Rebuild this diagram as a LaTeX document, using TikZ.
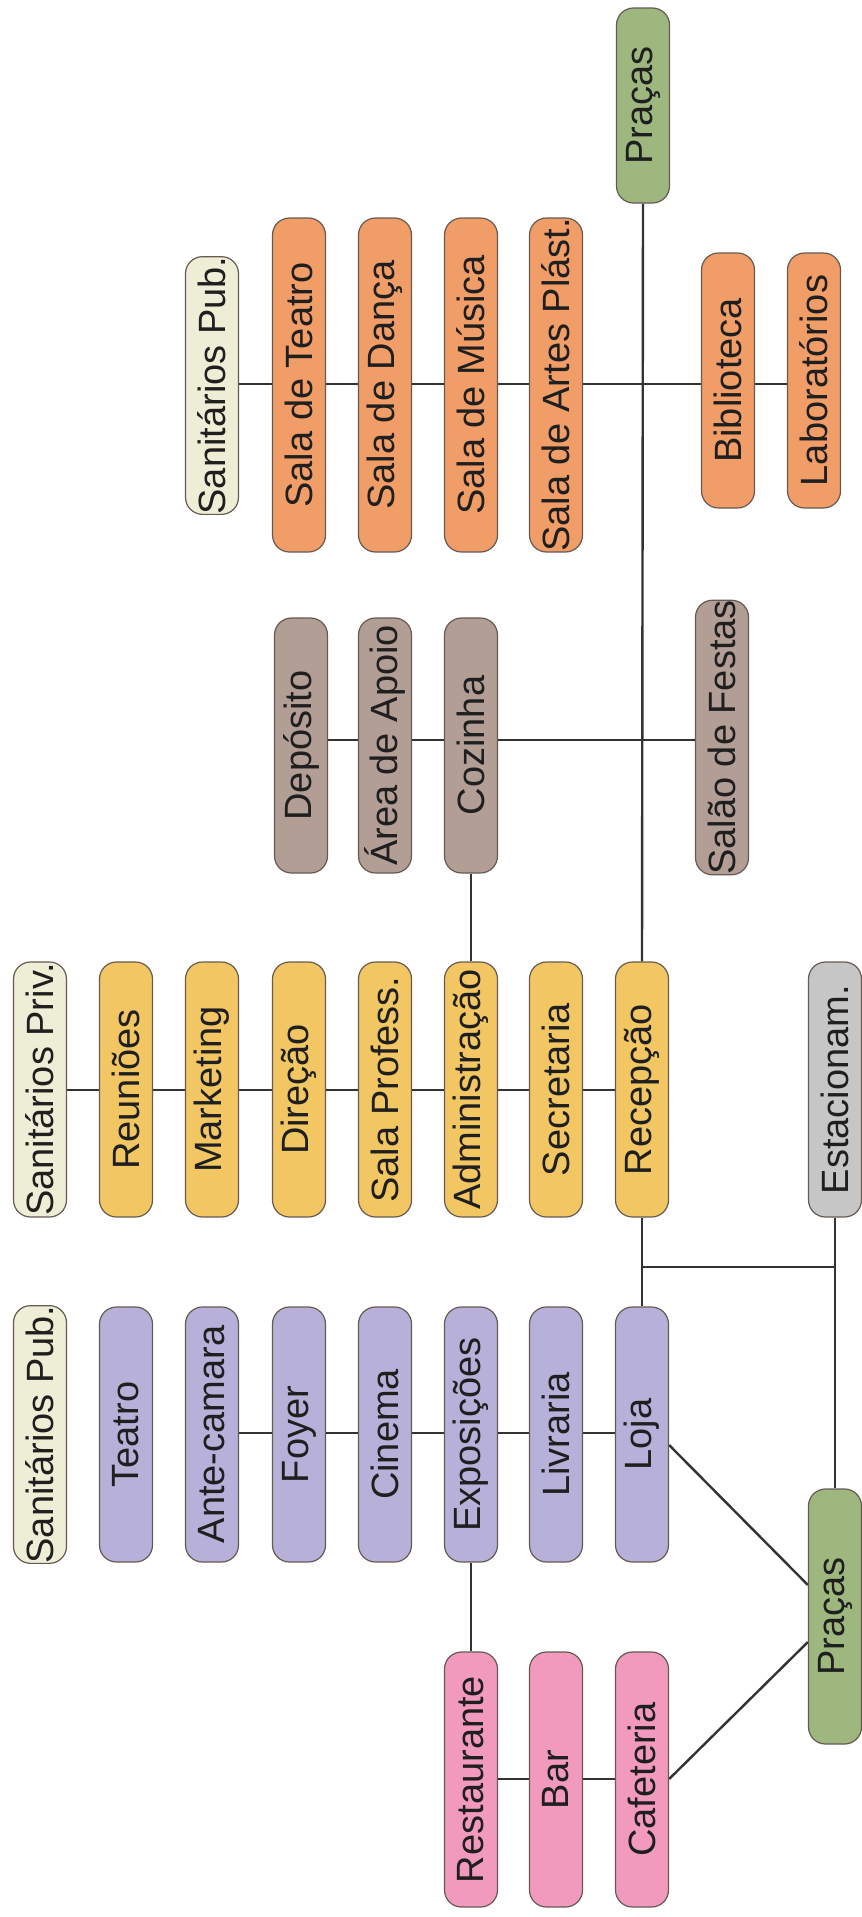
\documentclass[tikz,border=0pt]{standalone}
\usepackage{fontspec}
\setmainfont{Liberation Sans}
\usetikzlibrary{backgrounds}
\definecolor{greenC}{HTML}{9DB77F}
\definecolor{orangeC}{HTML}{F09D67}
\definecolor{beigeC}{HTML}{EEEDD5}
\definecolor{taupeC}{HTML}{B39E96}
\definecolor{yellowC}{HTML}{F2C763}
\definecolor{purpleC}{HTML}{B7B0D9}
\definecolor{pinkC}{HTML}{F29ABD}
\definecolor{grayC}{HTML}{C6C6C6}
\definecolor{bordC}{HTML}{665A52}
\definecolor{lineC}{HTML}{333333}
\tikzset{
  room/.style={draw=bordC, line width=1.2pt, rounded corners=17pt, rotate=90,
    minimum height=53pt, minimum width=255pt, inner sep=0pt,
    font=\fontsize{38}{40}\selectfont, text=black!88},
  len/.style={minimum width=#1pt},
  conn/.style={draw=lineC, line width=2.4pt},
}
\begin{document}
\begin{tikzpicture}[x=1pt, y=-1pt]
\useasboundingbox (0,0) rectangle (862,1917);
% top section
\node[room, fill=greenC, len=195] (praA) at (643,105.5) {Praças};
\node[room, fill=beigeC] (sp1) at (212,385.5) {Sanitários Pub.};
\node[room, fill=orangeC, len=334] (st) at (299,385) {Sala de Teatro};
\node[room, fill=orangeC, len=334] (sd) at (385,385) {Sala de Dança};
\node[room, fill=orangeC, len=334] (sm) at (471,385) {Sala de Música};
\node[room, fill=orangeC, len=334] (sa) at (556,385) {Sala de Artes Plást.};
\node[room, fill=orangeC] (bib) at (728,380.5) {Biblioteca};
\node[room, fill=orangeC] (lab) at (814,380.5) {Laboratórios};
% middle section
\node[room, fill=taupeC] (dep) at (301,745.5) {Depósito};
\node[room, fill=taupeC] (apo) at (385,745.5) {Área de Apoio};
\node[room, fill=taupeC] (coz) at (471,745.5) {Cozinha};
\node[room, fill=taupeC] (sal) at (722,737.5) {Salão de Festas};
% yellow section
\node[room, fill=beigeC] (spv) at (40,1089.5) {Sanitários Priv.};
\node[room, fill=yellowC] (reu) at (126,1089.5) {Reuniões};
\node[room, fill=yellowC] (mkt) at (212,1089.5) {Marketing};
\node[room, fill=yellowC] (dir) at (299,1089.5) {Direção};
\node[room, fill=yellowC] (prof) at (385,1089.5) {Sala Profess.};
\node[room, fill=yellowC] (adm) at (471,1089.5) {Administração};
\node[room, fill=yellowC] (sec) at (556,1089.5) {Secretaria};
\node[room, fill=yellowC] (rec) at (642,1089.5) {Recepção};
\node[room, fill=grayC] (est) at (835,1089.5) {Estacionam.};
% purple section
\node[room, fill=beigeC] (sp2) at (40,1434.5) {Sanitários Pub.};
\node[room, fill=purpleC] (tea) at (126,1434.5) {Teatro};
\node[room, fill=purpleC] (ant) at (212,1434.5) {Ante-camara};
\node[room, fill=purpleC] (foy) at (299,1434.5) {Foyer};
\node[room, fill=purpleC] (cin) at (385,1434.5) {Cinema};
\node[room, fill=purpleC] (exp) at (471,1434.5) {Exposições};
\node[room, fill=purpleC] (liv) at (556,1434.5) {Livraria};
\node[room, fill=purpleC] (loj) at (642,1434.5) {Loja};
\node[room, fill=greenC] (praB) at (835,1616.5) {Praças};
% pink section
\node[room, fill=pinkC] (res) at (471,1779.5) {Restaurante};
\node[room, fill=pinkC] (bar) at (556,1779.5) {Bar};
\node[room, fill=pinkC] (caf) at (642,1779.5) {Cafeteria};
% level coordinates
\coordinate (L1) at (0,384);
\coordinate (L2) at (0,740);
\coordinate (L3) at (0,1090);
\coordinate (L4) at (0,1433);
\coordinate (L5) at (0,1779);
\coordinate (J) at (0,1267);
\coordinate (Ya) at (0,1445);
\coordinate (Yb) at (0,1585);
\coordinate (Yc) at (0,1642);
\begin{pgfonlayer}{background}
\draw[conn] (sp1.south |- L1) -- (lab.north |- L1);
\draw[conn] (dep.south |- L2) -- (sal.north |- L2);
\draw[conn] (spv.south |- L3) -- (rec.north |- L3);
\draw[conn] (ant.south |- L4) -- (loj.north |- L4);
\draw[conn] (res.south |- L5) -- (caf.north |- L5);
\draw[conn] (praA.west) -- (rec.east);
\draw[conn] (coz.west) -- (adm.east);
\draw[conn] (rec.west) -- (loj.east);
\draw[conn] (rec.west |- J) -- (est.west |- J);
\draw[conn] (est.west) -- (praB.east);
\draw[conn] (exp.west) -- (res.east);
\draw[conn] (loj.south |- Ya) -- (praB.north |- Yb);
\draw[conn] (caf.south |- L5) -- (praB.north |- Yc);
\end{pgfonlayer}
\end{tikzpicture}
\end{document}
